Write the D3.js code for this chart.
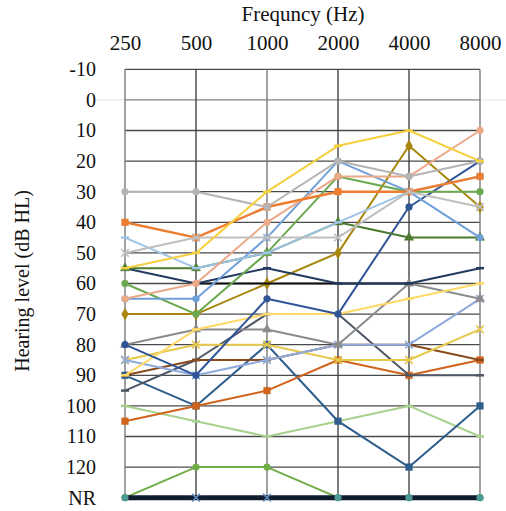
<!DOCTYPE html>
<html>
<head>
<meta charset="utf-8">
<script src="https://cdn.jsdelivr.net/npm/d3@7"></script>
<style>
    body { margin: 0; background: #fff; }
</style>
</head>
<body>
<svg id="chart" width="506" height="511"></svg>
<script>
// frequencies and hearing levels (130 = NR)
const freqs = ["250", "500", "1000", "2000", "4000", "8000"];
const levelTicks = [-10, 0, 10, 20, 30, 40, 50, 60, 70, 80, 90, 100, 110, 120, 130];

const lightGray  = [30, 30, 35, 20, 25, 20];
const grayX      = [50, 45, 45, 45, 30, 35];
const orangeSq   = [40, 45, 35, 30, 30, 25];
const peach      = [65, 60, 40, 25, 25, 10];
const paleBlue   = [45, 55, 50, 40, 30, 25];
const skyBlue    = [65, 65, 45, 20, 30, 45];
const green      = [60, 70, 50, 25, 30, 30];
const darkGreen  = [55, 55, 50, 40, 45, 45];
const navy       = [55, 60, 55, 60, 60, 55];
const black      = [null, 60, 60, 60, 60, null];
const olive      = [70, 70, 60, 50, 15, 35];
const gold       = [55, 50, 30, 15, 10, 20];
const blueDiam   = [80, 90, 65, 70, 35, 20];
const paleYellow = [90, 75, 70, 70, 65, 60];
const gray       = [80, 75, 75, 80, 60, 65];
const blueX      = [85, 90, 85, 80, 80, 65];
const khakiX     = [85, 80, 80, 85, 85, 75];
const brown      = [90, 85, 85, 80, 80, 85];
const charcoal   = [95, 85, 70, 70, 90, 90];
const rust       = [105, 100, 95, 85, 90, 85];
const lightGreen = [100, 105, 110, 105, 100, 110];
const steelSq    = [90, 100, 80, 105, 120, 100];
const greenNR    = [130, 120, 120, 130, 130, 130];
const navyNR     = [130, 130, 130, 130, 130, 130];
const tealNR     = [130, null, null, 130, 130, 130];
const blueNR     = [null, 130, 130, null, null, null];

const SERIF = "'Liberation Serif', 'Times New Roman', 'DejaVu Serif', serif";

const series = [
    { values: lightGreen, color: "#a9d18e", marker: "dash", width: 2 },
    { values: greenNR, color: "#70ad47", marker: "circle", width: 2 },
    { values: navyNR, color: "#101c30", marker: "none", width: 5 },
    { values: tealNR, color: "#4f9a94", marker: "circle", width: 0 },
    { values: blueNR, color: "#5f86b8", marker: "x", width: 0 },
    { values: steelSq, color: "#2e5e8c", marker: "square", width: 2 },
    { values: rust, color: "#d0641c", marker: "square", width: 2 },
    { values: charcoal, color: "#4d5766", marker: "dash", width: 2 },
    { values: brown, color: "#8a4a1c", marker: "dash", width: 2 },
    { values: khakiX, color: "#e6c84a", marker: "x", width: 2 },
    { values: blueX, color: "#8faadc", marker: "x", width: 2 },
    { values: gray, color: "#8c8c8c", marker: "triangle", width: 2 },
    { values: paleYellow, color: "#ffd966", marker: "dash", width: 2 },
    { values: blueDiam, color: "#2f5597", marker: "circle", width: 2 },
    { values: olive, color: "#a8860d", marker: "diamond", width: 2 },
    { values: black, color: "#111111", marker: "none", width: 2 },
    { values: navy, color: "#223a5e", marker: "dash", width: 2 },
    { values: darkGreen, color: "#4b7a2e", marker: "triangle", width: 2 },
    { values: green, color: "#6aa84f", marker: "circle", width: 2 },
    { values: skyBlue, color: "#6f9fd8", marker: "circle", width: 2 },
    { values: paleBlue, color: "#9dc3e6", marker: "dash", width: 2 },
    { values: peach, color: "#eba98a", marker: "circle", width: 2 },
    { values: orangeSq, color: "#ed7d31", marker: "square", width: 2.5 },
    { values: grayX, color: "#bfbfbf", marker: "x", width: 2 },
    { values: lightGray, color: "#b4b4b4", marker: "circle", width: 2 },
    { values: gold, color: "#f5cf3c", marker: "dash", width: 2 }
];

const svg = d3.select("#chart");

const x = d3.scalePoint()
            .domain(freqs)
            .range([125, 480]);
const y = d3.scaleLinear()
            .domain([-10, 130])
            .range([69.3, 497.7]);

// faint zero line running past the plot
svg.append("line")
   .attr("x1", 96).attr("x2", 506)
   .attr("y1", y(0)).attr("y2", y(0))
   .style("stroke", "#e4e4e4")
   .style("stroke-width", 1);

// grid
const grid = svg.append("g").attr("class", "grid");
grid.selectAll("line.h")
    .data(levelTicks)
    .join("line")
    .attr("class", "h")
    .attr("x1", x(freqs[0])).attr("x2", x(freqs[freqs.length - 1]))
    .attr("y1", (d) => y(d)).attr("y2", (d) => y(d))
    .style("stroke", (d) => d === 0 ? "#8a8a8a" : "#4a4a4a")
    .style("stroke-width", 1.3);
grid.selectAll("line.v")
    .data(freqs)
    .join("line")
    .attr("class", "v")
    .attr("x1", (d) => x(d)).attr("x2", (d) => x(d))
    .attr("y1", y(-10)).attr("y2", y(130))
    .style("stroke", (d, i) => (i === 0 || i === 2 || i === 5) ? "#7a7a7a" : "#454545")
    .style("stroke-width", 1.4);

// axes
const xAxis = svg.append("g")
                 .attr("transform", "translate(0,50)")
                 .call(d3.axisTop(x).tickSize(0).tickPadding(0));
xAxis.select(".domain").remove();
xAxis.selectAll("text")
     .attr("dy", 0)
     .style("font-family", SERIF)
     .style("font-size", "21px")
     .style("fill", "#111");

const yAxis = svg.append("g")
                 .attr("transform", "translate(96,0)")
                 .call(d3.axisLeft(y)
                         .tickValues(levelTicks)
                         .tickFormat((d) => d === 130 ? "NR" : d)
                         .tickSize(0)
                         .tickPadding(0));
yAxis.select(".domain").remove();
yAxis.selectAll("text")
     .style("font-family", SERIF)
     .style("font-size", "20px")
     .style("fill", "#111");

svg.append("text")
   .attr("x", 303)
   .attr("y", 21)
   .attr("text-anchor", "middle")
   .style("font-family", SERIF)
   .style("font-size", "21px")
   .style("fill", "#111")
   .text("Frequncy (Hz)");

svg.append("text")
   .attr("transform", "translate(29,281) rotate(-90)")
   .attr("text-anchor", "middle")
   .style("font-family", SERIF)
   .style("font-size", "20px")
   .style("fill", "#111")
   .text("Hearing level (dB HL)");

// lines
const line = d3.line()
               .defined((d) => d !== null)
               .x((d, i) => x(freqs[i]))
               .y((d) => y(d));

const symbolFor = {
    circle: d3.symbol().type(d3.symbolCircle).size(36),
    square: d3.symbol().type(d3.symbolSquare).size(44),
    triangle: d3.symbol().type(d3.symbolTriangle).size(36),
    diamond: d3.symbol().type(d3.symbolDiamond).size(40),
    x: d3.symbol().type(d3.symbolX || d3.symbolCross).size(40)
};

const layer = svg.append("g").attr("class", "series");
series.forEach((s) => {
    const g = layer.append("g");
    if (s.width > 0) {
        g.append("path")
         .datum(s.values)
         .attr("d", line)
         .style("fill", "none")
         .style("stroke", s.color)
         .style("stroke-width", s.width)
         .style("stroke-linejoin", "round");
    }

    const pts = s.values.map((v, i) => ({ f: freqs[i], v: v })).filter((p) => p.v !== null);
    if (s.marker === "dash") {
        g.selectAll("line")
         .data(pts)
         .join("line")
         .attr("x1", (d) => x(d.f) - 4).attr("x2", (d) => x(d.f) + 4)
         .attr("y1", (d) => y(d.v)).attr("y2", (d) => y(d.v))
         .style("stroke", s.color)
         .style("stroke-width", 2.5);
    } else if (s.marker !== "none") {
        g.selectAll("path.m")
         .data(pts)
         .join("path")
         .attr("class", "m")
         .attr("transform", (d) => "translate(" + x(d.f) + "," + y(d.v) + ")")
         .attr("d", symbolFor[s.marker])
         .style("fill", s.marker === "x" ? "none" : s.color)
         .style("stroke", s.color)
         .style("stroke-width", s.marker === "x" ? 1.6 : 0.5);
    }
});
</script>
</body>
</html>
